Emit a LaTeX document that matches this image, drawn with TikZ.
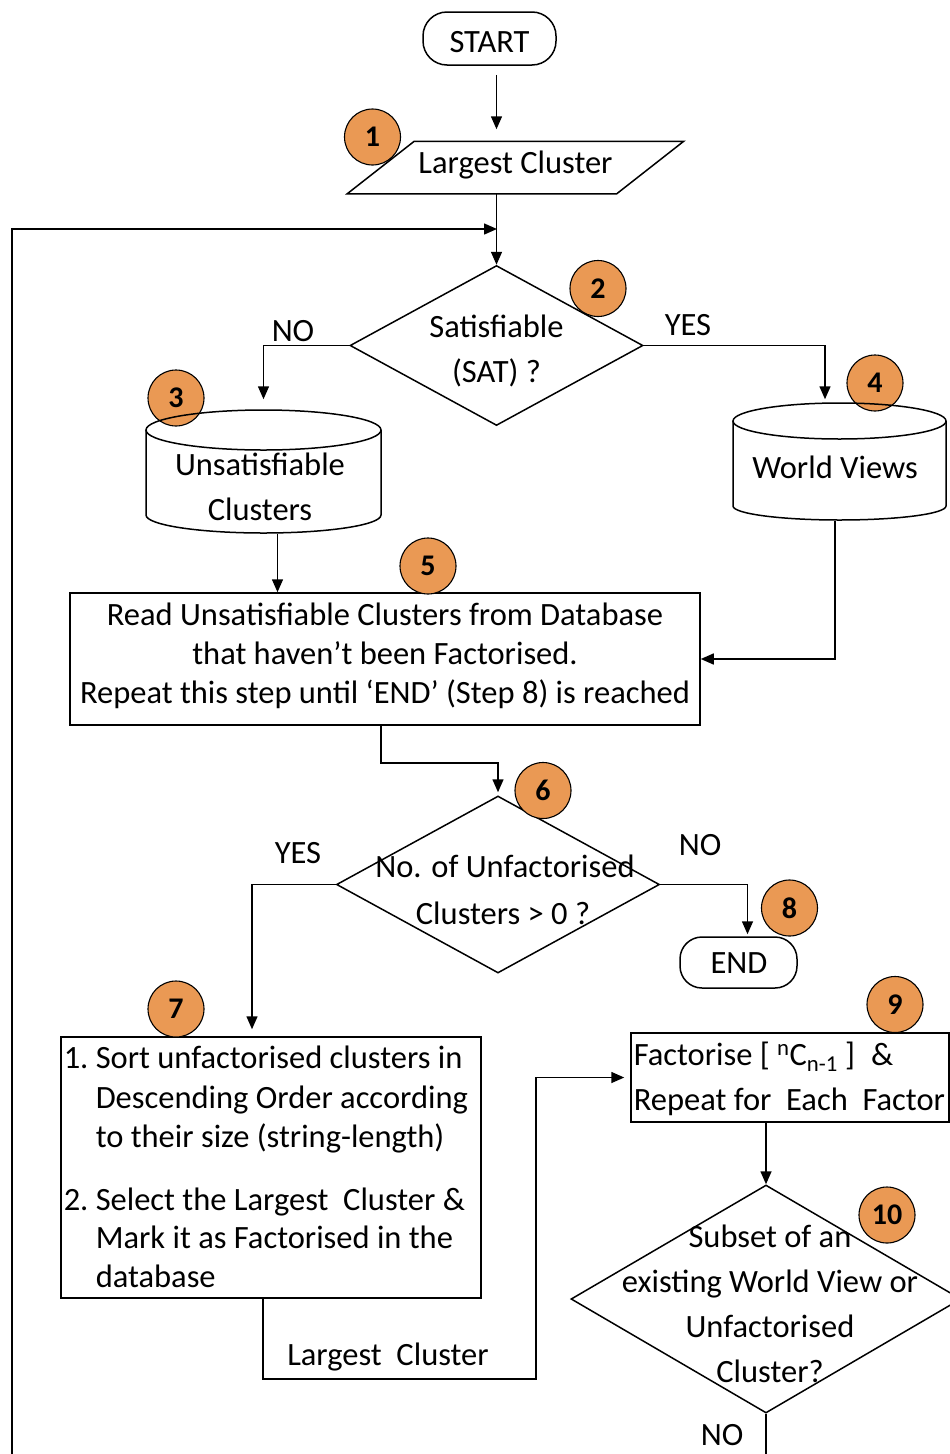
\documentclass[tikz,border=0pt]{standalone}
\usepackage{fontspec}
\setmainfont{Carlito}
\usetikzlibrary{arrows.meta,shapes.geometric}
\definecolor{badgeorange}{RGB}{234,153,84}
\begin{document}
\begin{tikzpicture}[x=1pt,y=-1pt,line width=1.5pt,
  txt/.style={inner sep=0pt,font=\fontsize{32.5}{39}\selectfont},
  badge/.style={circle,draw,line width=1.1pt,fill=badgeorange,minimum size=56pt,inner sep=0pt,font=\fontsize{30}{36}\selectfont\bfseries},
  arr/.style={-{Triangle[length=13pt,width=11pt]}},
  frame/.style={draw,inner sep=0pt},
  ghost/.style={inner sep=0pt},
  choice/.style={diamond,draw,inner sep=0pt}]
\useasboundingbox (0,0) rectangle (950,1454);

% ---------- shapes ----------
\node[frame,rounded corners=24pt,minimum width=133pt,minimum height=53pt] (start) at (489.5,38.5) {};
\node[ghost,minimum width=268pt,minimum height=51pt] (lc) at (515.5,167.5) {};
\draw ([xshift=33.5pt]lc.north west) -- ([xshift=33.5pt]lc.north east)
      -- ([xshift=-33.5pt]lc.south east) -- ([xshift=-33.5pt]lc.south west) -- cycle;
\node[choice,minimum width=293pt,minimum height=160pt] (sat) at (496.5,345.5) {};
\node[ghost,minimum width=235pt,minimum height=123pt] (c3) at (263.5,471.5) {};
\node[ghost,minimum width=213pt,minimum height=117pt] (c4) at (839.5,461.5) {};
\node[frame,minimum width=630pt,minimum height=132pt] (box5) at (385,659) {};
\node[choice,minimum width=323pt,minimum height=177pt] (d6) at (498,884.5) {};
\node[frame,rounded corners=22pt,minimum width=117pt,minimum height=51pt] (endn) at (738.5,962.5) {};
\node[frame,minimum width=420pt,minimum height=261pt] (box7) at (271,1167.5) {};
\node[frame,minimum width=318pt,minimum height=89pt] (box9) at (790,1077.5) {};
\node[choice,minimum width=390pt,minimum height=228pt] (d10) at (766,1299) {};

% ---------- connectors ----------
\draw[arr] ([yshift=-9pt]start.south -| sat.north) -- ([yshift=12pt]lc.north -| sat.north);
\draw[arr] (lc.south -| sat.north) -- (sat.north);
\coordinate (loopb) at (12,1460);
\coordinate (loopj) at (497,229);
\draw[arr] (loopb) |- (loopj);
\draw[arr] (sat.west) -| ([yshift=10pt]c3.north);
\draw[arr] (sat.east) -| ([xshift=-14.5pt,yshift=3pt]c4.north);
\draw[arr] ([xshift=14pt]c3.south) -- ([xshift=14pt]c3.south |- box5.north);
\draw[arr] ([xshift=-4.5pt]c4.south) |- (box5.east);
\draw[arr] ([xshift=-4pt]box5.south) -- ++(0,37) -| ([yshift=3pt]d6.north);
\draw[arr] (d6.east) -| ([xshift=9pt,yshift=2pt]endn.north);
\draw[arr] (d6.west) -| ([xshift=-19pt,yshift=7pt]box7.north);
\coordinate (lcj) at (536,1379);
\draw[arr] ([xshift=-8pt]box7.south) |- (lcj) |- ([xshift=-6pt]box9.west);
\draw[arr] ([xshift=-24pt]box9.south) -- (d10.north);
\coordinate (d10out) at (766,1460);
\draw (d10.south) -- (d10out);

% ---------- badges ----------
\node[badge] (b1) at (372.5,137) {1};
\node[badge] (b2) at (598,288.5) {2};
\node[badge] (b3) at (176,398) {3};
\node[badge] (b4) at (875,383) {4};
\node[badge] (b5) at (428,566) {5};
\node[badge] (b6) at (543,790.5) {6};
\node[badge] (b7) at (176,1009) {7};
\node[badge] (b8) at (789.5,908) {8};
\node[badge] (b9) at (895,1004.5) {9};
\node[badge] (b10) at (887,1215) {10};

% ---------- cylinders (drawn over badges 3 and 4) ----------
\draw (263.5,430) ellipse [x radius=117.5pt,y radius=20pt];
\draw (146,430) -- (146,515) arc [start angle=180,end angle=360,x radius=117.5pt,y radius=18pt] -- (381,430);
\draw (839.5,421) ellipse [x radius=106.5pt,y radius=18pt];
\draw (733,421) -- (733,506) arc [start angle=180,end angle=360,x radius=106.5pt,y radius=14pt] -- (946,421);

% ---------- texts ----------
\node[txt,anchor=base] (tstart) at (489.5,52) {START};
\node[txt,anchor=base] (tlc) at (515.5,173) {Largest Cluster};
\node[txt,anchor=base] (tsat1) at (496.5,337) {Satisfiable};
\node[txt,anchor=base] (tsat2) at (496.5,382) {(SAT) ?};
\node[txt,anchor=base] (tno1) at (293,341) {NO};
\node[txt,anchor=base] (tyes1) at (688,335) {YES};
\node[txt,anchor=base] (tc31) at (260,475) {Unsatisfiable};
\node[txt,anchor=base] (tc32) at (260,520) {Clusters};
\node[txt,anchor=base] (tc4) at (835,478) {World Views};
\node[txt,anchor=base] (tb51) at (385,625) {Read Unsatisfiable Clusters from Database};
\node[txt,anchor=base] (tb52) at (385,664) {that haven’t been Factorised.};
\node[txt,anchor=base] (tb53) at (385,703) {Repeat this step until ‘END’ (Step 8) is reached};
\node[txt,anchor=base] (td61) at (505,877) {No. of Unfactorised};
\node[txt,anchor=base] (td62) at (503,924) {Clusters > 0 ?};
\node[txt,anchor=base] (tno2) at (700,855) {NO};
\node[txt,anchor=base] (tyes2) at (298,863) {YES};
\node[txt,anchor=base] (tend) at (739,973) {END};
\node[txt,anchor=base west] (tn1) at (63,1068) {1.};
\node[txt,anchor=base west] (tb71) at (95,1068) {Sort unfactorised clusters in};
\node[txt,anchor=base west] (tb72) at (95,1108) {Descending Order according};
\node[txt,anchor=base west] (tb73) at (95,1147) {to their size (string-length)};
\node[txt,anchor=base west] (tn2) at (63,1210) {2.};
\node[txt,anchor=base west] (tb74) at (95,1210) {Select the Largest\ \ Cluster \&};
\node[txt,anchor=base west] (tb75) at (95,1248) {Mark it as Factorised in the};
\node[txt,anchor=base west] (tb76) at (95,1287) {database};
\node[txt,anchor=base] (tlc2) at (388,1365) {Largest\ \ Cluster};
\node[txt,anchor=base west] (tb91) at (633,1065) {Factorise [ \textsuperscript{n}C\textsubscript{n-1} ]\hspace{16pt}\&};
\node[txt,anchor=base west] (tb92) at (633,1110) {Repeat for\ \ Each\ \ Factor};
\node[txt,anchor=base] (td101) at (770,1247) {Subset of an};
\node[txt,anchor=base] (td102) at (770,1292) {existing World View or};
\node[txt,anchor=base] (td103) at (770,1337) {Unfactorised};
\node[txt,anchor=base] (td104) at (770,1382) {Cluster?};
\node[txt,anchor=base] (tno3) at (722,1445) {NO};
\end{tikzpicture}
\end{document}
